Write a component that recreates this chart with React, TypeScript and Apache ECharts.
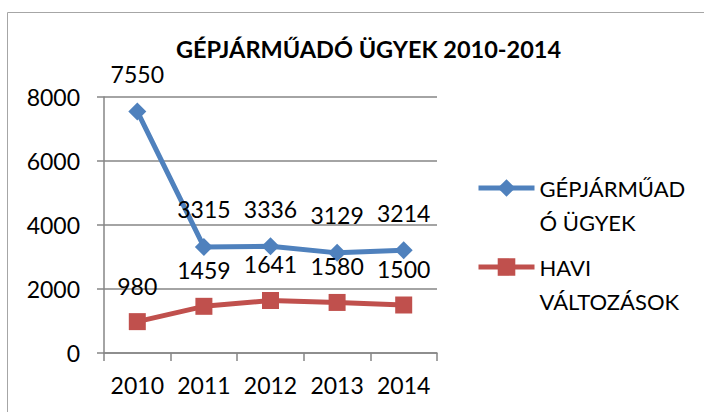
import React, { useEffect, useRef } from "react";
import * as echarts from "echarts";

const categories = ["2010", "2011", "2012", "2013", "2014"];
const seriesNames = ["GÉPJÁRMŰADÓ ÜGYEK", "HAVI VÁLTOZÁSOK"];
const legendLabels = ["\nGÉPJÁRMŰAD\nÓ ÜGYEK", "\nHAVI\nVÁLTOZÁSOK"];
const ugyek = [7550, 3315, 3336, 3129, 3214];
const valtozasok = [980, 1459, 1641, 1580, 1500];
const titleText = "GÉPJÁRMŰADÓ ÜGYEK 2010-2014";

const FONT = "Lato";
const GRAY = "#868686";

export default function App() {
  const ref = useRef<HTMLDivElement>(null);
  useEffect(() => {
    if (!ref.current) return;
    const chart = echarts.init(ref.current, null, { renderer: "svg" });
    const legendCommon = (name: string, label: string, top: number) => ({
      data: [name],
      orient: "vertical",
      left: 476,
      top,
      padding: 0,
      itemWidth: 56,
      itemHeight: 22,
      itemGap: 4,
      lineStyle: { width: 5 },
      formatter: () => label,
      textStyle: {
        fontFamily: FONT,
        fontSize: 22,
        color: "#000",
        lineHeight: 34,
      },
    });
    chart.setOption({
      animation: false,
      backgroundColor: "#fff",
      title: {
        text: titleText,
        left: 176,
        top: 37,
        padding: 0,
        textStyle: { fontFamily: FONT, fontSize: 23.5, fontWeight: "bold", color: "#000" },
      },
      graphic: [
        {
          type: "rect",
          shape: { x: 7.5, y: 12.5, width: 800, height: 500 },
          style: { fill: "none", stroke: "#a6a6a6", lineWidth: 1 },
          silent: true,
        },
      ],
      legend: [
        legendCommon(seriesNames[0], legendLabels[0], 137),
        legendCommon(seriesNames[1], legendLabels[1], 216),
      ],
      grid: { left: 104, right: 267, top: 97, bottom: 59, containLabel: false },
      xAxis: {
        type: "category",
        data: categories,
        boundaryGap: true,
        axisLine: { lineStyle: { color: GRAY, width: 1.5 } },
        axisTick: { show: true, length: 8, alignWithLabel: false, interval: 0, lineStyle: { color: GRAY, width: 1.5 } },
        axisLabel: { fontFamily: FONT, fontSize: 23, color: "#000", margin: 20, interval: 0, hideOverlap: false },
      },
      yAxis: {
        type: "value",
        min: 0,
        max: 8000,
        interval: 2000,
        axisLine: { show: true, lineStyle: { color: GRAY, width: 1.5 } },
        axisTick: { show: true, length: 7, lineStyle: { color: GRAY, width: 1.5 } },
        splitLine: { show: true, lineStyle: { color: GRAY, width: 1.5 } },
        axisLabel: {
          fontFamily: FONT,
          fontSize: 23,
          color: "#000",
          margin: 24,
          formatter: (v: number) => String(v),
        },
      },
      series: [
        {
          name: seriesNames[0],
          type: "line",
          data: ugyek,
          symbol: "diamond",
          symbolSize: 18,
          color: "#4F81BD",
          lineStyle: { color: "#4F81BD", width: 5 },
          itemStyle: { color: "#4F81BD" },
          label: {
            show: true,
            position: "top",
            distance: 17,
            fontFamily: FONT,
            fontSize: 23,
            color: "#000",
          },
        },
        {
          name: seriesNames[1],
          type: "line",
          data: valtozasok,
          symbol: "rect",
          symbolSize: 17,
          color: "#C0504D",
          lineStyle: { color: "#C0504D", width: 5 },
          itemStyle: { color: "#C0504D" },
          label: {
            show: true,
            position: "top",
            distance: 16,
            fontFamily: FONT,
            fontSize: 23,
            color: "#000",
          },
        },
      ],
    });
    return () => chart.dispose();
  }, []);
  return (
    <div
      ref={ref}
      style={{ position: "fixed", left: 0, top: 0, width: 704, height: 412, background: "#fff" }}
    />
  );
}
